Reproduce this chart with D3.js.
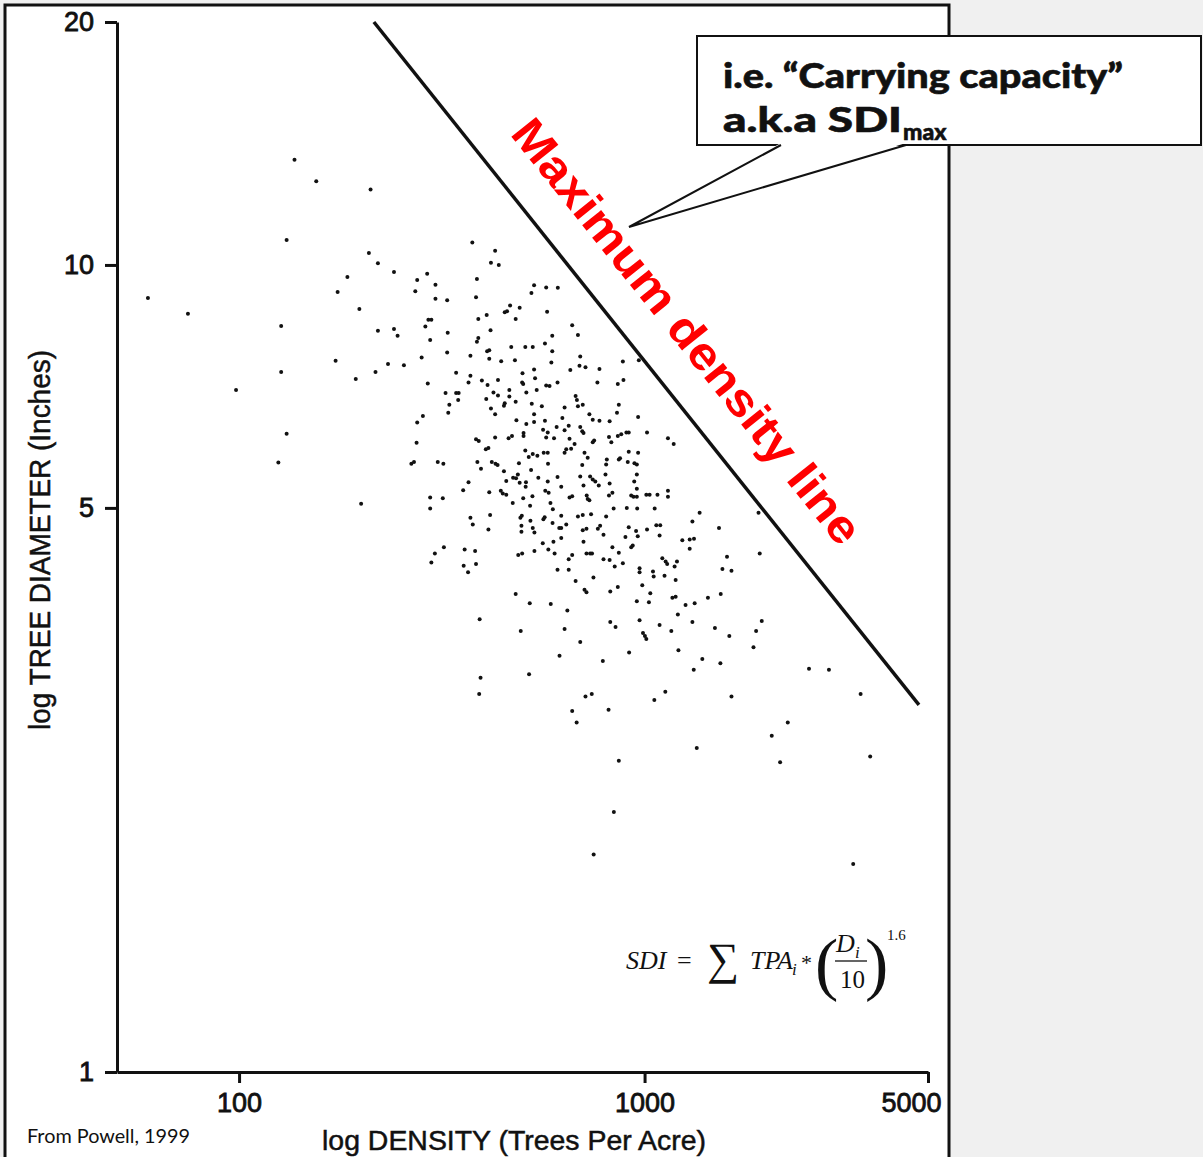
<!DOCTYPE html>
<html>
<head>
<meta charset="utf-8">
<script src="https://d3js.org/d3.v7.min.js"></script>
<style>
  body { margin: 0; background: #f0f0f0; }
  .axis path, .axis line { stroke: #111; stroke-width: 3; }
  .axis text { font-family: 'Liberation Sans', Arial, sans-serif; font-size: 27px; fill: #111; stroke: #111; stroke-width: 0.8; }
</style>
</head>
<body>
<div id="chart"></div>
<script>
// tick values
const xTicks = [100, 1000, 5000];
const yTicks = [1, 5, 10, 20];

// maximum density line, [trees per acre, diameter]
const maxLine = [[215, 20], [4750, 2.85]];

// stands, [trees per acre, quadratic mean diameter (in)]
const stands = [
  [137, 13.5], [155, 12.7], [211, 12.4], [131, 10.74], [209, 10.35], [220, 10.05], [241, 9.8], [185, 9.66],
  [175, 9.26], [59.6, 9.1], [74.8, 8.7], [198, 8.82], [127, 8.4], [220, 8.29], [241, 8.33], [246, 8.17],
  [173, 7.61], [127, 7.37], [98.3, 7.0], [194, 7.22], [217, 7.37], [233, 7.54], [131, 6.18], [125, 5.69], [200, 5.06],
  [376, 10.66], [428, 10.41], [418, 10.06], [437, 10.0], [291, 9.75], [275, 9.58], [305, 9.45], [272, 9.28],
  [386, 9.61], [384, 9.12], [305, 9.08], [326, 9.04], [534, 9.44], [526, 9.23], [572, 9.38], [611, 9.37],
  [466, 8.91], [492, 8.85], [452, 8.74], [458, 8.76], [408, 8.67], [389, 8.57], [481, 8.57], [575, 8.75],
  [293, 8.55], [298, 8.55], [288, 8.39], [417, 8.30], [327, 8.24], [296, 8.07], [389, 8.12], [386, 8.03],
  [592, 8.17], [568, 7.99], [469, 7.91], [508, 7.91], [530, 7.91], [592, 7.82], [409, 7.82], [414, 7.84],
  [326, 7.79], [372, 7.72], [282, 7.68], [255, 7.51], [414, 7.65], [443, 7.60], [479, 7.62], [589, 7.57],
  [343, 7.35], [372, 7.29], [500, 7.34], [534, 7.42], [292, 7.13], [368, 7.15], [397, 7.19], [410, 7.10],
  [435, 7.20], [499, 7.15], [502, 7.12], [537, 7.24], [572, 7.09], [583, 7.08], [610, 7.15], [464, 7.00],
  [511, 6.95], [542, 7.00], [323, 6.94], [343, 6.94], [348, 6.94], [347, 6.80], [424, 6.95], [435, 6.89],
  [464, 6.87], [407, 6.82], [481, 6.77], [452, 6.74], [450, 6.69], [330, 6.71], [527, 6.73], [558, 6.68], [418, 6.64],
  [663, 8.42], [685, 8.19], [694, 7.70], [691, 7.50], [715, 7.47], [656, 7.41], [774, 7.43], [884, 7.59],
  [968, 7.62], [765, 7.15], [859, 7.12], [887, 7.20], [676, 6.88], [681, 6.80], [704, 6.71], [685, 6.68],
  [635, 6.66], [864, 6.71],
  [284, 6.50], [275, 6.38], [328, 6.56], [428, 6.53], [483, 6.42], [511, 6.35], [534, 6.53], [534, 6.39],
  [568, 6.41], [607, 6.30], [274, 6.02], [384, 6.08], [390, 6.05], [428, 6.11], [462, 6.10], [471, 6.14],
  [503, 6.19], [503, 6.14], [562, 6.25], [577, 6.20], [572, 6.11], [598, 6.10], [406, 5.91], [412, 5.93],
  [508, 5.89], [518, 5.78], [530, 5.83], [544, 5.80], [564, 5.85], [577, 5.85], [266, 5.67], [270, 5.70],
  [309, 5.70], [319, 5.67], [387, 5.70], [395, 5.59], [420, 5.70], [429, 5.67], [434, 5.65], [490, 5.68],
  [578, 5.67], [450, 5.55], [525, 5.57], [368, 5.38], [357, 5.26], [414, 5.23], [456, 5.40], [474, 5.45],
  [482, 5.44], [487, 5.50], [492, 5.37], [510, 5.38], [509, 5.31], [547, 5.45], [577, 5.39], [610, 5.46],
  [442, 5.25], [447, 5.21], [456, 5.19], [569, 5.25], [580, 5.22], [296, 5.15], [318, 5.14], [296, 4.99],
  [473, 5.07], [502, 5.14], [529, 5.17], [522, 5.03], [586, 5.07], [594, 4.98], [372, 4.86], [377, 4.77],
  [416, 4.90], [412, 4.70], [494, 4.86], [498, 4.89], [523, 4.82], [563, 4.84], [567, 4.87], [497, 4.75],
  [497, 4.67], [530, 4.72], [535, 4.66], [593, 4.79], [616, 4.72], [320, 4.47], [304, 4.39], [298, 4.28],
  [360, 4.44], [382, 4.42], [358, 4.24], [367, 4.16], [384, 4.26], [488, 4.37], [499, 4.39], [535, 4.42],
  [561, 4.52], [579, 4.44], [596, 4.54], [600, 4.39], [610, 4.19], [481, 3.91], [521, 3.81], [587, 3.80], [392, 3.64],
  [627, 6.46], [731, 6.53], [745, 6.43], [774, 6.41], [820, 6.40], [855, 6.56], [964, 6.48], [650, 6.32],
  [635, 6.24], [694, 6.30], [702, 6.22], [707, 6.19], [751, 6.06], [745, 6.03], [817, 6.12], [828, 6.03],
  [859, 6.14], [876, 6.17], [902, 6.20], [914, 6.20], [1014, 6.20], [1142, 6.10], [1180, 6.00], [653, 6.09],
  [641, 5.91], [635, 5.85], [659, 5.92], [672, 6.00], [711, 5.85], [724, 5.77], [807, 5.74], [804, 5.66],
  [864, 5.74], [870, 5.76], [914, 5.87], [964, 5.85], [909, 5.70], [944, 5.68], [957, 5.66], [702, 5.65],
  [694, 5.47], [707, 5.33], [734, 5.47], [745, 5.42], [756, 5.39], [771, 5.33], [801, 5.50], [820, 5.36],
  [957, 5.50], [943, 5.39], [957, 5.28], [623, 5.31], [653, 5.15], [663, 5.17], [720, 5.18], [724, 5.13],
  [731, 5.11], [817, 5.18], [833, 5.22], [927, 5.18], [939, 5.16], [957, 5.16], [1010, 5.19], [1029, 5.19],
  [1076, 5.19], [1142, 5.25], [1142, 5.16], [839, 4.99], [904, 5.00], [959, 4.99], [1059, 4.99], [623, 4.89],
  [685, 4.88], [704, 4.90], [738, 4.91], [804, 4.88], [641, 4.77], [623, 4.72], [704, 4.69], [719, 4.71],
  [767, 4.71], [777, 4.75], [792, 4.63], [914, 4.73], [953, 4.68], [962, 4.61], [897, 4.60], [1014, 4.70],
  [1069, 4.76], [1093, 4.76], [1089, 4.62], [1367, 4.93], [1312, 4.81], [1526, 4.72], [1910, 4.93], [623, 4.59],
  [707, 4.54], [833, 4.47], [864, 4.40], [935, 4.49], [927, 4.47], [1239, 4.56], [1292, 4.57], [1324, 4.58],
  [1292, 4.45], [719, 4.39], [734, 4.39], [742, 4.39], [663, 4.37], [650, 4.32], [792, 4.32], [820, 4.31],
  [844, 4.23], [884, 4.27], [1106, 4.33], [1127, 4.29], [1137, 4.26], [1202, 4.29], [1186, 4.23], [1597, 4.35],
  [1923, 4.39], [650, 4.19], [748, 4.10], [676, 4.06], [972, 4.21], [972, 4.16], [1049, 4.17], [1053, 4.11],
  [1120, 4.12], [1193, 4.07], [1556, 4.20], [1638, 4.18], [711, 3.96], [719, 3.93], [823, 3.94], [859, 3.99],
  [987, 4.01], [1033, 3.92], [1171, 3.87], [1193, 3.88], [957, 3.83], [1025, 3.82], [1262, 3.79], [1329, 3.81],
  [1433, 3.87], [1541, 3.91], [645, 3.73], [972, 3.63], [1208, 3.69],
  [823, 3.61], [848, 3.56], [1089, 3.58], [1312, 3.61], [1491, 3.55], [1618, 3.47], [1945, 3.62], [1884, 3.52],
  [1856, 3.36], [495, 3.52], [635, 3.54], [694, 3.41], [617, 3.28], [789, 3.23], [916, 3.31], [991, 3.50],
  [1002, 3.47], [1010, 3.44], [1164, 3.52], [1212, 3.33], [1388, 3.25], [1322, 3.15], [1538, 3.21], [394, 3.08],
  [391, 2.94], [519, 3.11], [715, 2.92], [741, 2.94], [663, 2.80], [680, 2.71], [815, 2.81], [1057, 2.89],
  [1125, 2.96], [1638, 2.92], [2544, 3.16], [2849, 3.15], [3410, 2.94], [2255, 2.71], [2059, 2.61], [2159, 2.42],
  [3601, 2.46], [1345, 2.52], [864, 2.43], [840, 2.10], [749, 1.86], [3270, 1.81]
];

const W = 1203;
const H = 1157;

// append the svg object to the body of the page
const svg = d3.select('#chart').append('svg')
  .attr('width', W)
  .attr('height', H);

// white slide panel with its frame
svg.append('rect')
  .attr('x', 5)
  .attr('y', 5)
  .attr('width', 944)
  .attr('height', H + 20)
  .attr('fill', '#fff')
  .attr('stroke', '#111')
  .attr('stroke-width', 3);

const x = d3.scaleLog().domain([50, 5000]).range([117, 928]);
const y = d3.scaleLog().domain([1, 20]).range([1072, 22]);

// axes
const xAxis = svg.append('g')
  .attr('class', 'axis')
  .attr('transform', `translate(0,${y(1)})`)
  .call(d3.axisBottom(x)
    .tickValues(xTicks)
    .tickFormat(d3.format('d'))
    .tickSize(11)
    .tickSizeOuter(0)
    .tickPadding(10));

// last label sits left of its tick, inside the frame
xAxis.selectAll('.tick text')
  .filter(d => d === 5000)
  .attr('dx', -17);

svg.append('g')
  .attr('class', 'axis')
  .attr('transform', `translate(${x(50)},0)`)
  .call(d3.axisLeft(y)
    .tickValues(yTicks)
    .tickFormat(d3.format('d'))
    .tickSize(12)
    .tickSizeOuter(0)
    .tickPadding(11));

// axis titles
const titleStyle = sel => sel
  .attr('lengthAdjust', 'spacingAndGlyphs')
  .style('font-family', "'Liberation Sans', Arial, sans-serif")
  .style('fill', '#111')
  .style('stroke', '#111')
  .style('stroke-width', 0.5);

svg.append('text')
  .attr('x', 322)
  .attr('y', 1150)
  .attr('textLength', 384)
  .call(titleStyle)
  .style('font-size', '28px')
  .text('log DENSITY (Trees Per Acre)');

svg.append('text')
  .attr('transform', 'translate(50,730) rotate(-90)')
  .attr('textLength', 380)
  .call(titleStyle)
  .style('font-size', '29px')
  .text('log TREE DIAMETER (Inches)');

// scatter points
svg.append('g')
  .selectAll('circle')
  .data(stands)
  .join('circle')
  .attr('cx', d => x(d[0]))
  .attr('cy', d => y(d[1]))
  .attr('r', 2)
  .attr('fill', '#111');

// maximum density line
const p0 = [x(maxLine[0][0]), y(maxLine[0][1])];
const p1 = [x(maxLine[1][0]), y(maxLine[1][1])];
svg.append('path')
  .attr('d', d3.line()(maxLine.map(d => [x(d[0]), y(d[1])])))
  .attr('stroke', '#111')
  .attr('stroke-width', 3.5)
  .attr('fill', 'none');

// red label parallel to the line
const ang = Math.atan2(p1[1] - p0[1], p1[0] - p0[0]);
const off = 36;
const mx = (p0[0] + p1[0]) / 2 + off * Math.sin(ang);
const my = (p0[1] + p1[1]) / 2 - off * Math.cos(ang);
svg.append('text')
  .attr('transform', `translate(${mx},${my}) rotate(${ang * 180 / Math.PI})`)
  .attr('text-anchor', 'middle')
  .attr('textLength', 530)
  .attr('lengthAdjust', 'spacingAndGlyphs')
  .style('font-family', "'Liberation Sans', Arial, sans-serif")
  .style('font-weight', 'bold')
  .style('font-size', '46px')
  .style('fill', '#ff0000')
  .text('Maximum density line');

// callout box
svg.append('rect')
  .attr('x', 697)
  .attr('y', 36)
  .attr('width', 504)
  .attr('height', 109)
  .attr('fill', '#fff')
  .attr('stroke', '#111')
  .attr('stroke-width', 2);

const tail = [[781, 143], [629, 227], [906, 143]];
svg.append('polygon')
  .attr('points', tail.map(p => p.join(',')).join(' '))
  .attr('fill', '#fff');
svg.append('path')
  .attr('d', d3.line()([[781, 145], [629, 227], [906, 145]]))
  .attr('fill', 'none')
  .attr('stroke', '#111')
  .attr('stroke-width', 2);

const calloutFont = "Lato, 'Open Sans', sans-serif";
svg.append('text')
  .attr('x', 723)
  .attr('y', 88)
  .attr('textLength', 400)
  .attr('lengthAdjust', 'spacingAndGlyphs')
  .style('font-family', calloutFont)
  .style('font-weight', 900)
  .style('font-size', '35px')
  .style('fill', '#111')
  .style('stroke', '#111')
  .style('stroke-width', 0.6)
  .text('i.e. \u201CCarrying capacity\u201D');

const line2 = svg.append('text')
  .attr('x', 723)
  .attr('y', 132)
  .style('font-family', calloutFont)
  .style('font-weight', 900)
  .style('font-size', '35px')
  .style('fill', '#111')
  .style('stroke', '#111')
  .style('stroke-width', 0.6);
line2.append('tspan').attr('textLength', 179).attr('lengthAdjust', 'spacingAndGlyphs').text('a.k.a SDI');
line2.append('tspan')
  .attr('x', 903)
  .attr('y', 140)
  .style('font-size', '23px')
  .text('max');

// source note
svg.append('text')
  .attr('x', 27)
  .attr('y', 1143)
  .attr('textLength', 163)
  .attr('lengthAdjust', 'spacingAndGlyphs')
  .style('font-family', "Lato, 'Open Sans', sans-serif")
  .style('font-size', '19px')
  .style('fill', '#111')
  .text('From Powell, 1999');

// SDI formula
const serif = "'Liberation Serif', 'DejaVu Serif', serif";
const eq = svg.append('g')
  .style('font-family', serif)
  .style('fill', '#111');
const put = (tx, ty, str, size, italic) => eq.append('text')
  .attr('x', tx)
  .attr('y', ty)
  .style('font-size', `${size}px`)
  .style('font-style', italic ? 'italic' : 'normal')
  .text(str);
put(626, 969, 'SDI', 26, true);
put(677, 969, '=', 26, false);
put(707, 974, '\u2211', 45, false);
put(750, 969, 'TPA', 26, true);
put(792, 975, 'i', 17, true);
put(801, 970, '*', 22, false);
put(815, 987, '(', 70, false);
put(836, 952, 'D', 26, true);
put(855, 958, 'i', 17, true);
put(840, 988, '10', 25, false);
put(865, 987, ')', 70, false);
put(887, 940, '1.6', 15, false);
eq.append('line')
  .attr('x1', 835)
  .attr('x2', 867)
  .attr('y1', 961)
  .attr('y2', 961)
  .attr('stroke', '#111')
  .attr('stroke-width', 1.3);
</script>
</body>
</html>
